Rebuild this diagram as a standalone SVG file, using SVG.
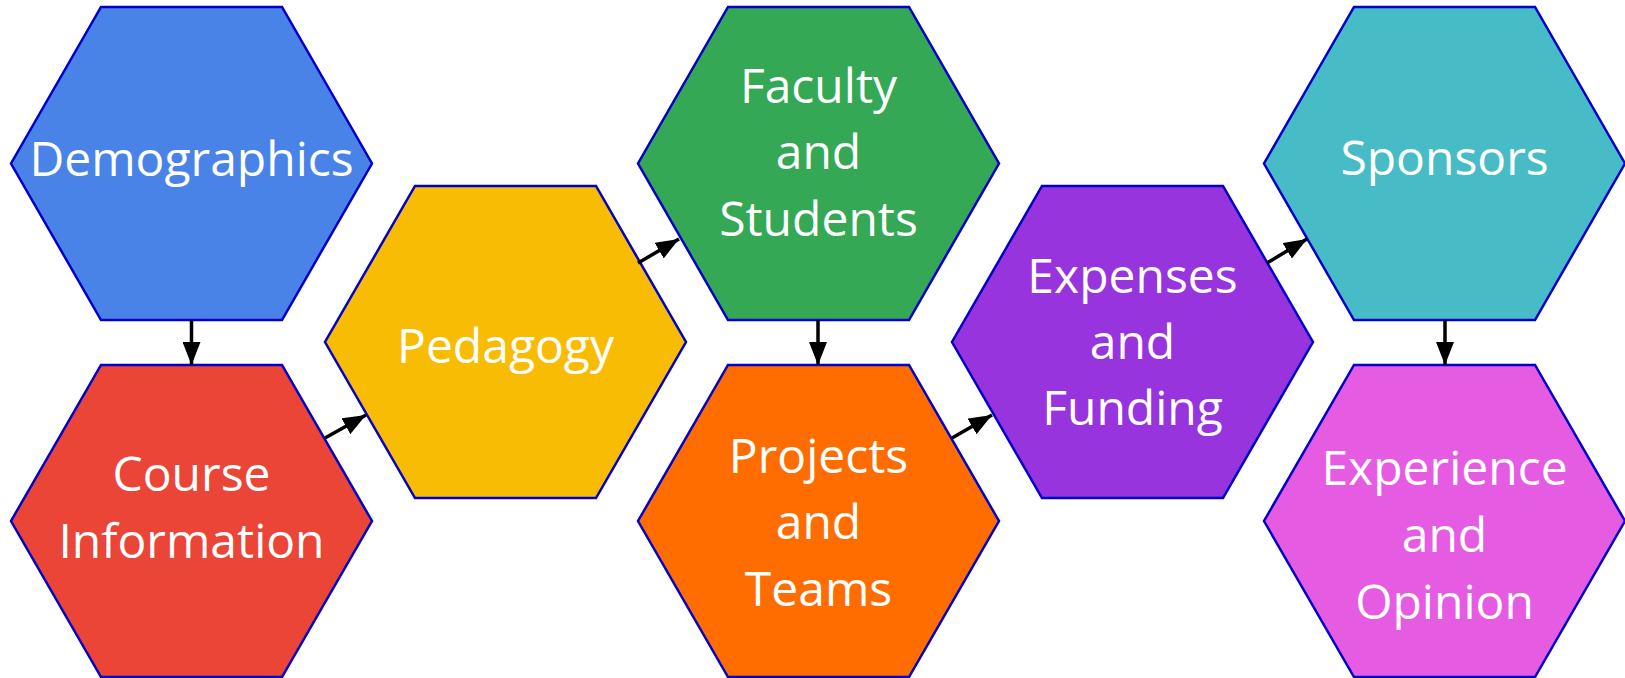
<svg xmlns="http://www.w3.org/2000/svg" width="1625" height="678" viewBox="0 0 1625 678">
  <style>
    .hex { stroke: #0000C8; stroke-width: 2.5; stroke-linejoin: miter; }
    .lbl { font-family: "Open Sans", "Noto Sans", sans-serif; font-size: 48px; fill: #FFFFFF; text-anchor: middle; }
    .conn { stroke: #000000; stroke-width: 3.5; fill: none; marker-end: url(#arrow); }
  </style>
  <defs>
    <marker id="arrow" viewBox="0 0 23 18" refX="23" refY="9" markerWidth="23" markerHeight="18" markerUnits="userSpaceOnUse" orient="auto">
      <path d="M0,0 L23,9 L0,18 Z" fill="#000000"/>
    </marker>
  </defs>
  <rect width="1625" height="678" fill="#FFFFFF"/>

  <g id="node-demographics">
    <polygon class="hex" fill="#4A83E8" points="101,7 282,7 372,163.5 282,320 101,320 11,163.5"/>
    <text class="lbl" x="191.5" y="176">Demographics</text>
  </g>
  <g id="node-course-information">
    <polygon class="hex" fill="#EA4536" points="101,365 282,365 372,521 282,677 101,677 11,521"/>
    <text class="lbl" x="191.5" y="491">Course</text>
    <text class="lbl" x="191.5" y="558">Information</text>
  </g>
  <g id="node-pedagogy">
    <polygon class="hex" fill="#F9BC05" points="415,186 596,186 686,342 596,498 415,498 325,342"/>
    <text class="lbl" x="505.5" y="363">Pedagogy</text>
  </g>
  <g id="node-faculty-students">
    <polygon class="hex" fill="#35A855" points="728,7 909,7 999,163.5 909,320 728,320 638,163.5"/>
    <text class="lbl" x="818.5" y="103">Faculty</text>
    <text class="lbl" x="818.5" y="169">and</text>
    <text class="lbl" x="818.5" y="236">Students</text>
  </g>
  <g id="node-projects-teams">
    <polygon class="hex" fill="#FF6D01" points="728,365 909,365 999,521 909,677 728,677 638,521"/>
    <text class="lbl" x="818.5" y="473">Projects</text>
    <text class="lbl" x="818.5" y="539">and</text>
    <text class="lbl" x="818.5" y="606">Teams</text>
  </g>
  <g id="node-expenses-funding">
    <polygon class="hex" fill="#9834DD" points="1042,186 1223,186 1313,342 1223,498 1042,498 952,342"/>
    <text class="lbl" x="1132.5" y="293">Expenses</text>
    <text class="lbl" x="1132.5" y="359">and</text>
    <text class="lbl" x="1132.5" y="425">Funding</text>
  </g>
  <g id="node-sponsors">
    <polygon class="hex" fill="#47BCC6" points="1354,7 1535,7 1625,163.5 1535,320 1354,320 1264,163.5"/>
    <text class="lbl" x="1444.5" y="175">Sponsors</text>
  </g>
  <g id="node-experience-opinion">
    <polygon class="hex" fill="#E55CE3" points="1354,365 1535,365 1625,521 1535,677 1354,677 1264,521"/>
    <text class="lbl" x="1444.5" y="485">Experience</text>
    <text class="lbl" x="1444.5" y="552">and</text>
    <text class="lbl" x="1444.5" y="619">Opinion</text>
  </g>

  <g id="connectors">
    <line class="conn" x1="191.5" y1="320" x2="191.5" y2="365"/>
    <line class="conn" x1="325" y1="438" x2="366" y2="415"/>
    <line class="conn" x1="638" y1="263" x2="679" y2="239"/>
    <line class="conn" x1="818" y1="320" x2="818" y2="365"/>
    <line class="conn" x1="952" y1="438" x2="992" y2="415"/>
    <line class="conn" x1="1267" y1="263" x2="1307" y2="239"/>
    <line class="conn" x1="1445" y1="320" x2="1445" y2="365"/>
  </g>
</svg>
